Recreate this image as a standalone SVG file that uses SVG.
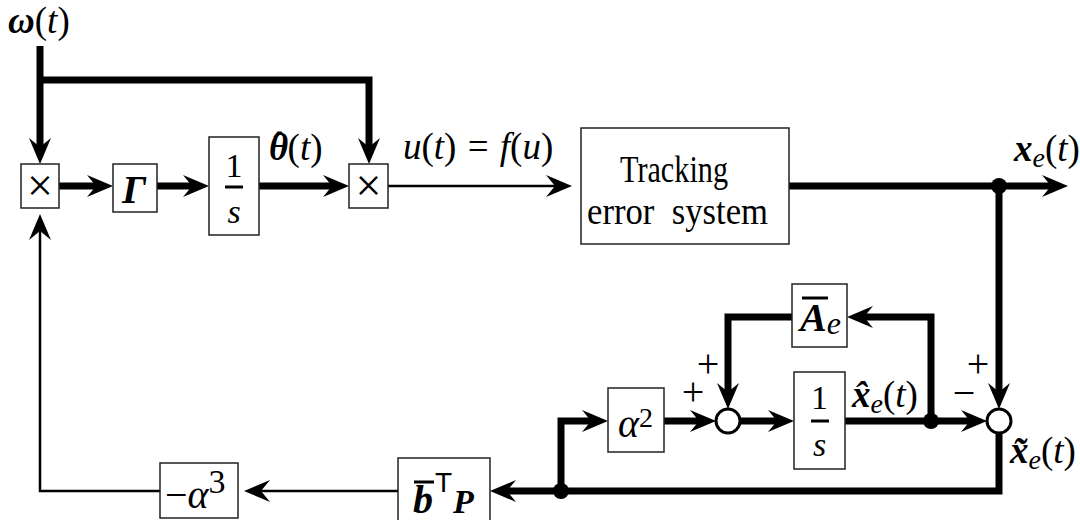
<svg xmlns="http://www.w3.org/2000/svg" width="1080" height="520" viewBox="0 0 1080 520">
<style>
.box{fill:#fff;stroke:#222;stroke-width:1.5}
.thick{fill:none;stroke:#000;stroke-width:7;stroke-linejoin:miter;stroke-miterlimit:10}
.thin{fill:none;stroke:#000;stroke-width:2.5}
.bar{fill:none;stroke:#000;stroke-width:3}
.sum{fill:#fff;stroke:#000;stroke-width:3}
.dot{fill:#000}
.tx{font-family:"Liberation Serif","DejaVu Serif","Times New Roman",serif;fill:#000}
.s40{font-size:40px}
.s38{font-size:38px}
.s37{font-size:37px}
.s34{font-size:34px}
.s32{font-size:32px}
.s28{font-size:28px}
.s24{font-size:24px}
.i{font-style:italic}
.bi{font-style:italic;font-weight:bold}
.c{text-anchor:middle}
.sans{font-family:"Liberation Sans","DejaVu Sans",Arial,sans-serif;font-style:normal}
</style>
<defs>
<marker id="ah" markerUnits="userSpaceOnUse" markerWidth="30" markerHeight="26" viewBox="0 -13 30 26" refX="14" refY="0" orient="auto" overflow="visible">
<path d="M0,-11 L26,0 L0,11 L9,0 Z" fill="#000"/>
</marker>
<marker id="at" markerUnits="userSpaceOnUse" markerWidth="30" markerHeight="26" viewBox="0 -13 30 26" refX="20" refY="0" orient="auto" overflow="visible">
<path d="M0,-11 L26,0 L0,11 L9,0 Z" fill="#000"/>
</marker>
</defs>
<rect width="1080" height="520" fill="#fff"/>

<g id="connectors">
<path class="thick" d="M40,46 V152" marker-end="url(#ah)"/>
<path class="thick" d="M40,80 H369 V152" marker-end="url(#ah)"/>
<path class="thick" d="M59,186 H101" marker-end="url(#ah)"/>
<path class="thick" d="M157,186 H197" marker-end="url(#ah)"/>
<path class="thick" d="M259,186 H337" marker-end="url(#ah)"/>
<path class="thin" d="M388,186 H566" marker-end="url(#at)"/>
<path class="thick" d="M789,186 H1056" marker-end="url(#ah)"/>
<path class="thick" d="M999,186 V397" marker-end="url(#ah)"/>
<path class="thick" d="M999,433 V491 H502" marker-end="url(#ah)"/>
<path class="thick" d="M561,491 V421 H596" marker-end="url(#ah)"/>
<path class="thick" d="M664,421 H704" marker-end="url(#ah)"/>
<path class="thick" d="M740,421 H782" marker-end="url(#ah)"/>
<path class="thick" d="M845,421 H975" marker-end="url(#ah)"/>
<path class="thick" d="M931,421 V317 H859" marker-end="url(#ah)"/>
<path class="thick" d="M792,317 H728 V397" marker-end="url(#ah)"/>
<path class="thin" d="M398,491 H250" marker-end="url(#at)"/>
<path class="thin" d="M160,491 H40 V220" marker-end="url(#at)"/>
<circle class="dot" cx="999" cy="186" r="8"/>
<circle class="dot" cx="931" cy="421" r="8"/>
<circle class="dot" cx="561" cy="491" r="8"/>
</g>

<g id="labels" class="tx s37">
<text x="8" y="33"><tspan class="bi">ω</tspan>(<tspan class="i">t</tspan>)</text>
<text x="269" y="160"><tspan class="bi">θ</tspan><tspan dx="-15" dy="-2">ˆ</tspan><tspan dx="2" dy="2">(</tspan><tspan class="i">t</tspan>)</text>
<text x="403" y="159" style="word-spacing:2px"><tspan class="i">u</tspan>(<tspan class="i">t</tspan>) = <tspan class="i">f</tspan>(<tspan class="i">u</tspan>)</text>
<text x="1014" y="161"><tspan class="bi">x</tspan><tspan class="i s28" dy="6">e</tspan><tspan dy="-6">(</tspan><tspan class="i">t</tspan>)</text>
<text x="852" y="407"><tspan class="bi">x̂</tspan><tspan class="i s28" dy="6">e</tspan><tspan dy="-6">(</tspan><tspan class="i">t</tspan>)</text>
<text x="1010" y="463"><tspan class="bi">x̃</tspan><tspan class="i s28" dy="6">e</tspan><tspan dy="-6">(</tspan><tspan class="i">t</tspan>)</text>
<text class="c s40" x="708" y="377">+</text>
<text class="c s40" x="693" y="405">+</text>
<text class="c s40" x="978" y="377">+</text>
<text class="c s40" x="964" y="406">−</text>
</g>

<g id="mul1">
<rect class="box" x="21" y="164" width="38" height="44"/>
<text class="tx c" x="40" y="201" style="font-size:46px">×</text>
</g>
<g id="gamma">
<rect class="box" x="113" y="164" width="44" height="48"/>
<text class="tx s40 c bi" x="134" y="203">Γ</text>
</g>
<g id="integrator1">
<rect class="box" x="209" y="137" width="50" height="98"/>
<text class="tx s34 c" x="234" y="177">1</text>
<path class="bar" d="M225,187 H243"/>
<text class="tx s34 c i" x="234" y="223">s</text>
</g>
<g id="mul2">
<rect class="box" x="349" y="164" width="39" height="44"/>
<text class="tx c" x="368.5" y="201" style="font-size:46px">×</text>
</g>
<g id="tracking">
<rect class="box" x="581" y="128" width="208" height="116"/>
<text class="tx s38" x="620" y="182" textLength="108" lengthAdjust="spacingAndGlyphs">Tracking</text>
<text class="tx s38" x="587" y="224" textLength="181" lengthAdjust="spacingAndGlyphs" xml:space="preserve">error  system</text>
</g>
<g id="Ae">
<rect class="box" x="792" y="284" width="55" height="63"/>
<path class="bar" d="M802,298 H828"/>
<text class="tx s40" x="800" y="331"><tspan class="bi">A</tspan><tspan class="i s32" dy="3">e</tspan></text>
</g>
<g id="alpha2">
<rect class="box" x="608" y="388" width="56" height="64"/>
<text class="tx s40" x="618" y="437"><tspan class="i">α</tspan><tspan class="s28" dy="-10">2</tspan></text>
</g>
<g id="sum1">
<circle class="sum" cx="728" cy="421" r="12"/>
</g>
<g id="integrator2">
<rect class="box" x="794" y="372" width="51" height="97"/>
<text class="tx s34 c" x="819.5" y="409">1</text>
<path class="bar" d="M811,421 H829"/>
<text class="tx s34 c i" x="819.5" y="456">s</text>
</g>
<g id="sum2">
<circle class="sum" cx="999" cy="421" r="12"/>
</g>
<g id="bTP">
<rect class="box" x="398" y="458" width="92" height="70"/>
<path class="bar" d="M414,482 H434"/>
<text class="tx s40" x="413" y="513"><tspan class="bi">b</tspan><tspan class="sans s28" dy="-21" dx="2">T</tspan><tspan class="bi s34" dy="21" dx="1">P</tspan></text>
</g>
<g id="alpha3">
<rect class="box" x="160" y="463" width="78" height="55"/>
<text class="tx s40" x="165" y="508">−<tspan class="i">α</tspan><tspan class="s34" dy="-15">3</tspan></text>
</g>
</svg>
